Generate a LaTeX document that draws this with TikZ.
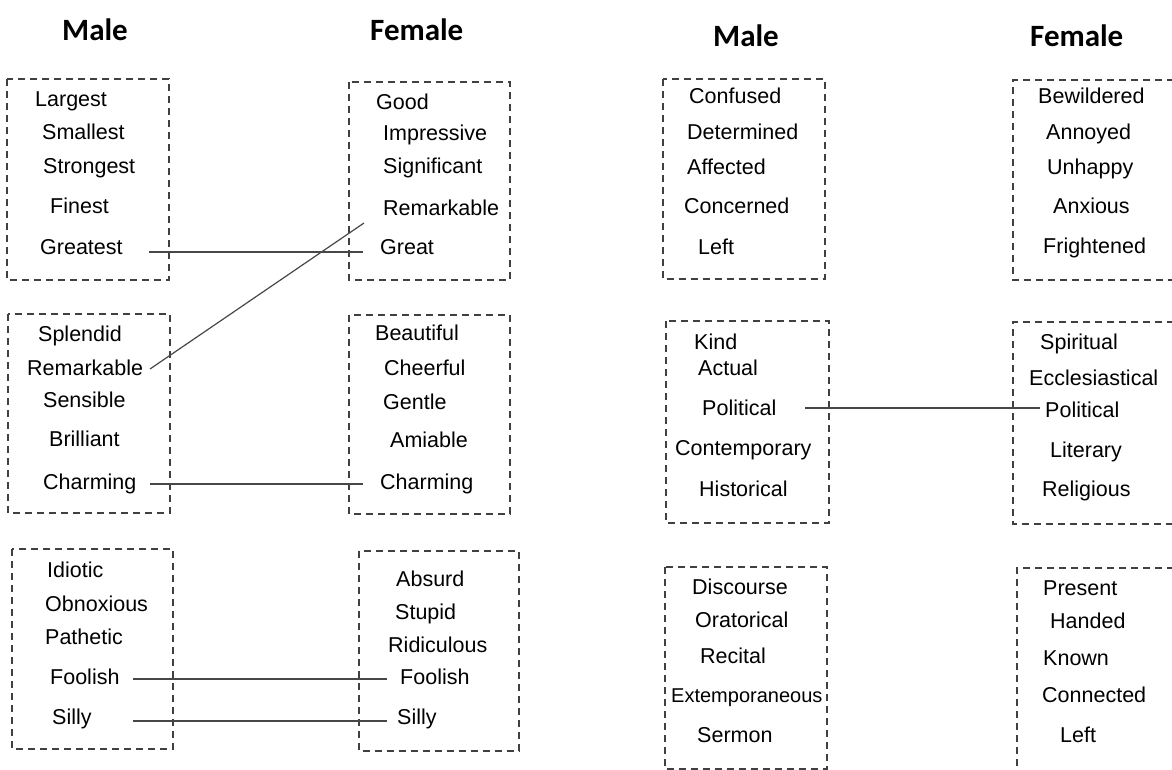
\documentclass[tikz,border=0pt]{standalone}
\usepackage{fontspec}
\setmainfont{Liberation Sans}
\newfontfamily\hdrfamily{Carlito}
\tikzset{
  word/.style={anchor=base west, inner sep=0pt, font=\fontsize{21.5}{25}\selectfont},
  hdr/.style={anchor=base west, inner sep=0pt, font=\hdrfamily\bfseries\fontsize{31}{36}\selectfont},
  dbox/.style={draw=black!75, dash pattern=on 7pt off 5pt, line width=1.4pt},
  conn/.style={draw=black!72, line width=1.2pt},
}
\begin{document}
\begin{tikzpicture}[x=1pt,y=-1pt]
\useasboundingbox (0,0) rectangle (1172,770);
% headers
\node[hdr] (hM1) at (62,41) {Male};
\node[hdr] (hF1) at (370,41) {Female};
\node[hdr] (hM2) at (713,47) {Male};
\node[hdr] (hF2) at (1030,47) {Female};
% boxes
\draw[dbox] (7,79) rectangle (169,280);
\draw[dbox] (349,82) rectangle (510,280);
\draw[dbox] (8,314) rectangle (170,513);
\draw[dbox] (349,315) rectangle (510,514);
\draw[dbox] (12,549) rectangle (173,749);
\draw[dbox] (359,551) rectangle (519,751);
\draw[dbox] (663,79) rectangle (825,279);
\draw[dbox] (1174,80) -- (1013,80) -- (1013,280) -- (1174,280);
\draw[dbox] (666,321) rectangle (829,523);
\draw[dbox] (1174,322) -- (1013,322) -- (1013,524) -- (1174,524);
\draw[dbox] (665,567) rectangle (827,769);
\draw[dbox] (1174,568) -- (1017,568) -- (1017,772);
% box 1
\node[word] (w11) at (35,107) {Largest};
\node[word] (w12) at (42,140) {Smallest};
\node[word] (w13) at (43,174) {Strongest};
\node[word] (w14) at (50,213) {Finest};
\node[word] (w15) at (40,254) {Greatest};
% box 2
\node[word] (w21) at (376,110) {Good};
\node[word] (w22) at (383,141) {Impressive};
\node[word] (w23) at (383,174) {Significant};
\node[word] (w24) at (383,215) {Remarkable};
\node[word] (w25) at (380,254) {Great};
% box 3
\node[word] (w31) at (38,341) {Splendid};
\node[word] (w32) at (27,375) {Remarkable};
\node[word] (w33) at (43,407) {Sensible};
\node[word] (w34) at (49,446) {Brilliant};
\node[word] (w35) at (43,489) {Charming};
% box 4
\node[word] (w41) at (375,340) {Beautiful};
\node[word] (w42) at (384,375) {Cheerful};
\node[word] (w43) at (383,409) {Gentle};
\node[word] (w44) at (390,447) {Amiable};
\node[word] (w45) at (380,489) {Charming};
% box 5
\node[word] (w51) at (47,577) {Idiotic};
\node[word] (w52) at (45,611) {Obnoxious};
\node[word] (w53) at (45,644) {Pathetic};
\node[word] (w54) at (50,684) {Foolish};
\node[word] (w55) at (52,724) {Silly};
% box 6
\node[word] (w61) at (396,586) {Absurd};
\node[word] (w62) at (395,619) {Stupid};
\node[word] (w63) at (388,652) {Ridiculous};
\node[word] (w64) at (400,684) {Foolish};
\node[word] (w65) at (397,724) {Silly};
% box 7
\node[word] (w71) at (689,104) {Confused};
\node[word] (w72) at (687,140) {Determined};
\node[word] (w73) at (687,175) {Affected};
\node[word] (w74) at (684,213) {Concerned};
\node[word] (w75) at (698,254) {Left};
% box 8
\node[word] (w81) at (1038,104) {Bewildered};
\node[word] (w82) at (1046,140) {Annoyed};
\node[word] (w83) at (1047,175) {Unhappy};
\node[word] (w84) at (1053,214) {Anxious};
\node[word] (w85) at (1043,253) {Frightened};
% box 9
\node[word] (w91) at (694,349) {Kind};
\node[word] (w92) at (698,375) {Actual};
\node[word] (w93) at (702,415) {Political};
\node[word] (w94) at (675,455) {Contemporary};
\node[word] (w95) at (699,496) {Historical};
% box 10
\node[word] (wa1) at (1040,349) {Spiritual};
\node[word] (wa2) at (1029,385) {Ecclesiastical};
\node[word] (wa3) at (1045,417) {Political};
\node[word] (wa4) at (1050,457) {Literary};
\node[word] (wa5) at (1042,496) {Religious};
% box 11
\node[word] (wb1) at (692,594) {Discourse};
\node[word] (wb2) at (695,627) {Oratorical};
\node[word] (wb3) at (700,663) {Recital};
\node[word, font=\fontsize{20}{24}\selectfont] (wb4) at (671,702) {Extemporaneous};
\node[word] (wb5) at (697,742) {Sermon};
% box 12
\node[word] (wc1) at (1043,595) {Present};
\node[word] (wc2) at (1050,628) {Handed};
\node[word] (wc3) at (1043,665) {Known};
\node[word] (wc4) at (1042,702) {Connected};
\node[word] (wc5) at (1060,742) {Left};
% connector ends
\coordinate (c15) at (149,252);
\coordinate (c25) at (363,252);
\coordinate (c32) at (150,369);
\coordinate (c24) at (364,223);
\coordinate (c35) at (150,484);
\coordinate (c45) at (363,484);
\coordinate (c54) at (133,679);
\coordinate (c64) at (387,679);
\coordinate (c55) at (133,721);
\coordinate (c65) at (387,721);
\coordinate (c93) at (805,408);
\coordinate (ca3) at (1040,408);
% connectors
\draw[conn] (c15) -- (c25);
\draw[conn] (c32) -- (c24);
\draw[conn] (c35) -- (c45);
\draw[conn] (c54) -- (c64);
\draw[conn] (c55) -- (c65);
\draw[conn] (c93) -- (ca3);
\end{tikzpicture}
\end{document}
